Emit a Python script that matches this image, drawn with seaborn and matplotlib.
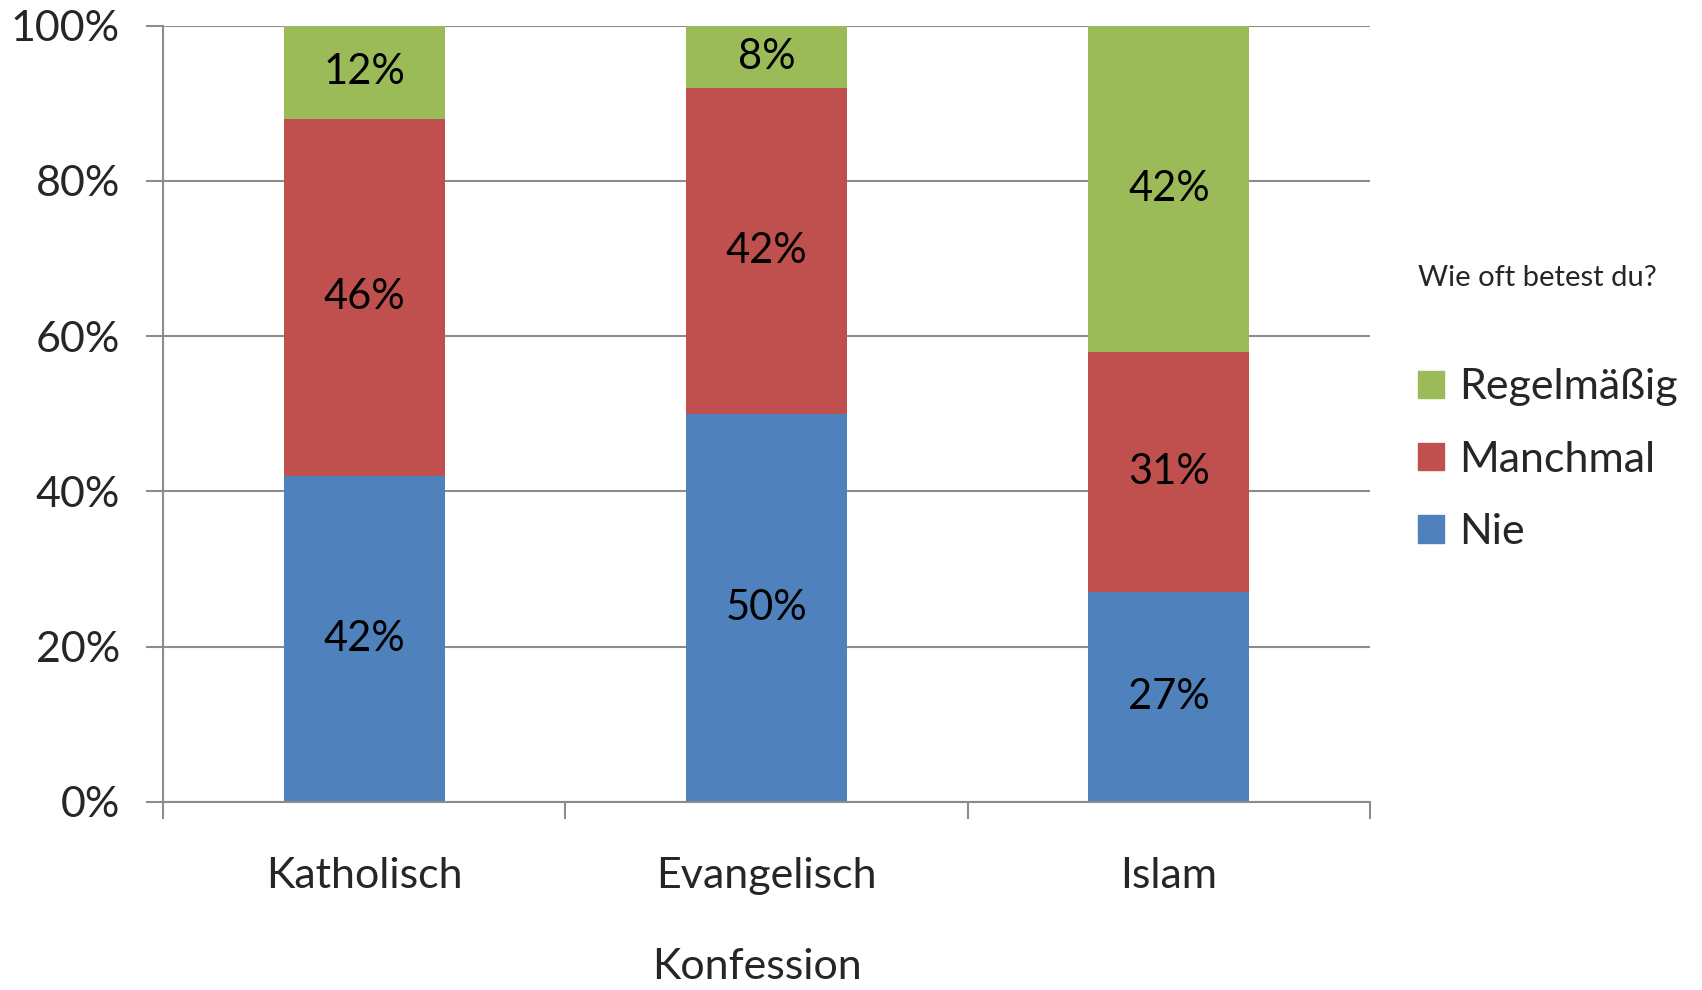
import matplotlib
matplotlib.use("Agg")
import matplotlib.pyplot as plt
import seaborn as sns
import numpy as np
from matplotlib.patches import Patch
from matplotlib.ticker import PercentFormatter, FixedLocator

# Daten
konfessionen = ["Katholisch", "Evangelisch", "Islam"]
nie = [42, 50, 27]
manchmal = [46, 42, 31]
regelmaessig = [12, 8, 42]

farbe_nie = "#4F81BD"
farbe_manchmal = "#C0504D"
farbe_regel = "#9BBB59"
grau = '#8C8C8C'

sns.set_style("white")
plt.rcParams['font.family'] = ['Lato', 'DejaVu Sans']

fig = plt.figure(figsize=(17.02, 9.9), dpi=100)
ax = fig.add_axes([0.0958, 0.19, 0.7092, 0.784])

unten2 = np.array(nie)
unten3 = unten2 + np.array(manchmal)

sns.barplot(x=konfessionen, y=nie, color=farbe_nie, width=0.4, ax=ax,
            saturation=1, linewidth=0)
sns.barplot(x=konfessionen, y=manchmal, bottom=unten2, color=farbe_manchmal,
            width=0.4, ax=ax, saturation=1, linewidth=0)
sns.barplot(x=konfessionen, y=regelmaessig, bottom=unten3, color=farbe_regel,
            width=0.4, ax=ax, saturation=1, linewidth=0)

for cont, werte in zip(ax.containers, [nie, manchmal, regelmaessig]):
    ax.bar_label(cont, labels=[f"{w}%" for w in werte], label_type='center',
                 fontsize=30, color='black')

ax.set_ylim(0, 100)
ax.set_xlim(-0.5, 2.5)
ax.yaxis.set_major_locator(FixedLocator([0, 20, 40, 60, 80, 100]))
ax.yaxis.set_major_formatter(PercentFormatter(decimals=0))
ax.yaxis.grid(True, color=grau, linewidth=1.5)
ax.set_axisbelow(True)

for s in ['top', 'right']:
    ax.spines[s].set_visible(False)
for s in ['left', 'bottom']:
    ax.spines[s].set_color(grau)
    ax.spines[s].set_linewidth(1.5)

# Teilstriche an den Kategoriegrenzen
ax.xaxis.set_minor_locator(FixedLocator([-0.5, 0.5, 1.5, 2.5]))
ax.tick_params(axis='x', which='major', bottom=False, length=0, pad=40,
               labelsize=31)
ax.tick_params(axis='x', which='minor', bottom=True, length=12, width=1.5,
               color=grau, direction='out')
ax.tick_params(axis='y', left=True, length=12, width=1.5, color=grau,
               direction='out', pad=19, labelsize=31)

ax.set_xlabel("Konfession", fontsize=31, labelpad=38)
ax.xaxis.label.set_x(0.492)
ax.set_ylabel("")

handles = [Patch(color=farbe_regel, label="Regelmäßig"),
           Patch(color=farbe_manchmal, label="Manchmal"),
           Patch(color=farbe_nie, label="Nie")]
leg = ax.legend(handles=handles, title="Wie oft betest du?",
                loc='upper left', bbox_to_anchor=(1.022, 0.72),
                frameon=False, fontsize=31, title_fontsize=21,
                borderpad=0, handlelength=0.6, handleheight=0.6,
                handletextpad=0.35, labelspacing=0.8)
leg._legend_box.align = "left"
leg._legend_box.sep = 56

fig.savefig("out.png", dpi=100)
